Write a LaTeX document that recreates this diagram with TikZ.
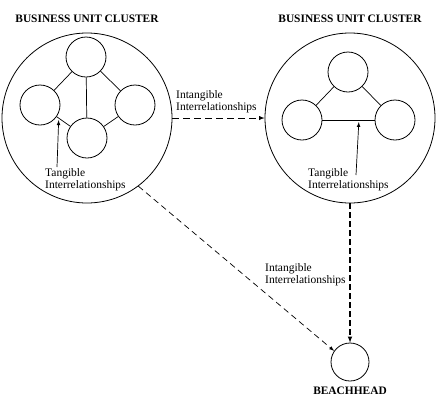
\documentclass[tikz,border=0pt]{standalone}
\usepackage{fontspec}
\setmainfont{Liberation Serif}
\usetikzlibrary{positioning}
\begin{document}
\begin{tikzpicture}[
    x=1pt, y=-1pt,
    cluster/.style={draw, circle, minimum size=170pt, inner sep=0pt, line width=0.8pt},
    unit/.style={draw, circle, minimum size=40pt, inner sep=0pt, line width=0.8pt},
    title/.style={font=\fontsize{11.4}{13}\selectfont\bfseries},
    note/.style={align=left, inner sep=0pt, anchor=north west, font=\fontsize{11.5}{12}\selectfont},
    link/.style={line width=0.7pt},
    pointer/.style={-latex, line width=0.7pt, shorten >=2pt},
    intangible/.style={-latex, dashed, line width=0.9pt, dash pattern=on 7pt off 4pt}
]
\useasboundingbox (0,0) rectangle (439,400);

% Business unit clusters
\node[cluster] (lcl) at (87,118) {};
\node[cluster] (rcl) at (350,118) {};
\node[title, above=6pt of lcl] (ltitle) {BUSINESS UNIT CLUSTER};
\node[title, above=6pt of rcl] (rtitle) {BUSINESS UNIT CLUSTER};

% Beachhead
\node[unit, minimum size=38pt] (beach) at (350,362) {};
\node[title, below=2pt of beach] (beachlbl) {BEACHHEAD};

% Units of the left cluster
\node[unit] (la) at (86,57) {};
\node[unit] (lb) at (40,105) {};
\node[unit] (lc) at (135,105) {};
\node[unit] (ld) at (87,138) {};

% Units of the right cluster
\node[unit] (ra) at (348,72) {};
\node[unit] (rb) at (302,120) {};
\node[unit] (rc) at (395,120) {};

% Tangible links
\draw[link] (la) -- (lb);
\draw[link] (la) -- (lc);
\draw[link] (la) -- (ld);
\draw[link] (lb) -- coordinate[pos=0.15] (ltip) (ld);
\draw[link] (lc) -- (ld);
\draw[link] (ra) -- (rb);
\draw[link] (ra) -- (rc);
\draw[link] (rb) -- coordinate[pos=0.7] (rtip) (rc);

% Tangible labels
\node[note] (ltan) at (45,168) {Tangible\\Interrelationships};
\node[note] (rtan) at (308,168) {Tangible\\Interrelationships};
\draw[pointer] ([xshift=12pt, yshift=1pt]ltan.north west) -- (ltip);
\draw[pointer] ([xshift=48pt, yshift=-7pt]rtan.north west) -- (rtip);

% Intangible links
\draw[intangible] (lcl) -- (rcl);
\draw[intangible, line width=1.1pt, dash pattern=on 6pt off 3pt] (rcl) -- (beach);
\draw[intangible, line width=0.7pt, dash pattern=on 6pt off 4pt] (lcl.-53) -- (beach.145);
\node[note] (hint) at (176,90) {Intangible\\Interrelationships};
\node[note] (vint) at (265,263) {Intangible\\Interrelationships};

\end{tikzpicture}
\end{document}
